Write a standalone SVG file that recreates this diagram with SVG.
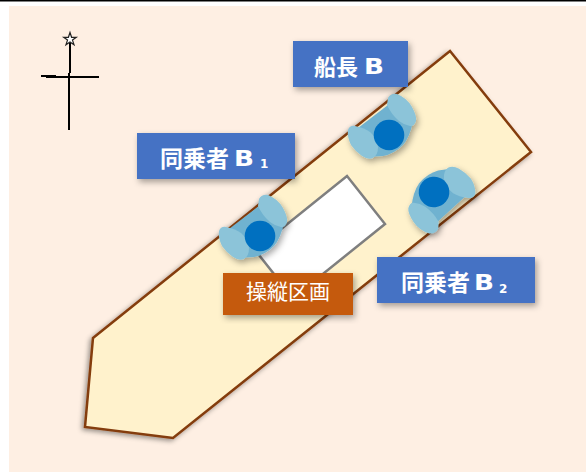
<svg xmlns="http://www.w3.org/2000/svg" width="586" height="472" viewBox="0 0 586 472">
<style>
.lbl{fill:#4472c4;filter:url(#s)}
.t{font-family:"Noto Sans CJK JP","Liberation Sans",sans-serif;fill:#fff;font-weight:700;font-size:23px}
.l{font-family:"DejaVu Sans",sans-serif;font-size:22px;fill:#fff;font-weight:700}
.n{font-family:"DejaVu Sans",sans-serif;font-size:12px;fill:#fff;font-weight:700}
.arm{fill:#8cc4d9}
.body{fill:#70b2d0}
.head{fill:#0070c0}
.ln{stroke:#000;stroke-width:2;fill:none}
</style>
<defs>
<filter id="s" x="-20%" y="-20%" width="140%" height="140%"><feDropShadow dx="2" dy="3" stdDeviation="3" flood-color="#000" flood-opacity=".35"/></filter>
<filter id="h" x="-10%" y="-10%" width="120%" height="120%"><feDropShadow dx="-2" dy="2" stdDeviation="2.500" flood-color="#000" flood-opacity=".4"/></filter>
<g id="person">
<path class="body" d="M-31-7L-1-30L24-14Q21 2 14 10Q5 19-6 21L-22 22Z"/>
<path class="arm" d="M-1-37Q2-42 8-41Q18-37 23-28Q28-19 27-14Q25-8 21-9Q15-10 10-14Q2-21-2-30Z"/>
<path class="arm" d="M-41-5Q-39-10-34-9Q-24-7-19-3Q-12 3-11 12Q-11 20-16 23Q-21 25-27 21Q-34 16-38 10Q-42 2-41-5Z"/>
<circle class="head" r="15.300"/>
</g>
</defs>
<rect width="586" height="472" fill="#fff"/>
<rect x="9" y="6" width="577" height="466" fill="#feefe3"/>
<rect width="586" height="1.500" fill="#000"/>
<g id="compass">
<path class="ln" d="M70 43V73M69 73V130M46 77H99M41 76H56"/>
<path d="M70 32.500L71.600 37.300H76.300L72.500 40.100L74 44.700L70 41.900L66 44.700L67.500 40.100L63.700 37.300H68.400Z" fill="#fff" stroke="#222" stroke-width="1.200"/>
</g>
<g id="hull"><path d="M93 338L450 51L531 152L173 438L85 427Z" fill="#fff2cc" stroke="#843c0c" stroke-width="2.500" filter="url(#h)"/></g>
<g id="area"><path d="M347 176L385 224L293 298L255 250Z" fill="#fff" stroke="#7f7f7f" stroke-width="2.500"/></g>
<g id="p1" filter="url(#s)"><use href="#person" transform="translate(389 135)"/></g>
<g id="p2" filter="url(#s)"><use href="#person" transform="translate(260 236)"/></g>
<g id="p3" filter="url(#s)"><use href="#person" transform="translate(434 192) rotate(175)"/></g>
<g id="captain"><rect class="lbl" x="293" y="41" width="115" height="46"/><text class="t" x="314" y="75" style="font-size:22px">船長</text><text class="l" x="364" y="74" textLength="20" lengthAdjust="spacingAndGlyphs">B</text></g>
<g id="b1"><rect class="lbl" x="137" y="133" width="158" height="46"/><text class="t" x="160" y="167">同乗者</text><text class="l" x="234" y="166" textLength="20" lengthAdjust="spacingAndGlyphs">B</text><text class="n" x="260" y="168">1</text></g>
<g id="b2"><rect class="lbl" x="377" y="257" width="158" height="46"/><text class="t" x="401" y="291">同乗者</text><text class="l" x="474" y="290" textLength="20" lengthAdjust="spacingAndGlyphs">B</text><text class="n" x="499" y="293">2</text></g>
<g id="control"><rect x="223" y="273" width="130" height="42" fill="#c55a11" filter="url(#s)"/><text class="t" x="246" y="299" style="font-weight:400;font-size:21px">操縦区画</text></g>
</svg>
